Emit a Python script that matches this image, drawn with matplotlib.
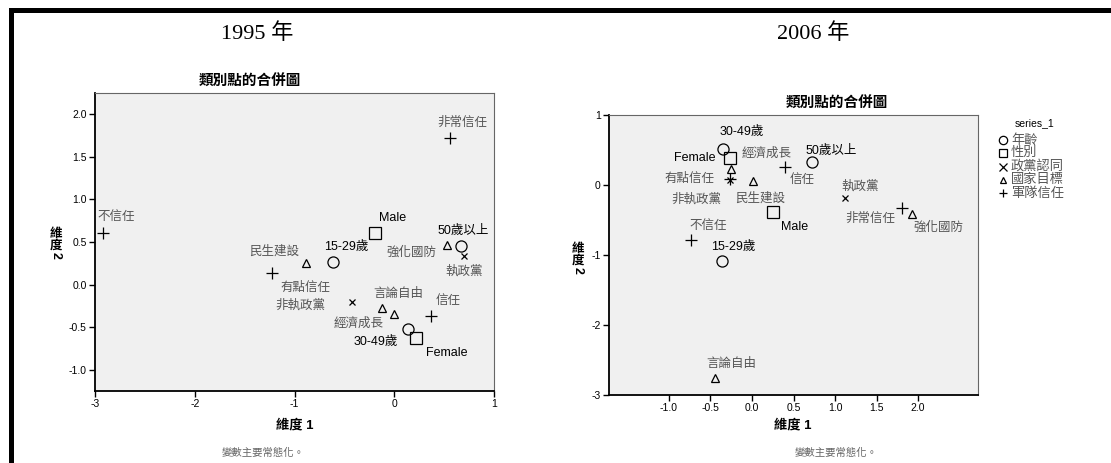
import matplotlib
matplotlib.use("Agg")
import matplotlib.pyplot as plt
from matplotlib.lines import Line2D
from matplotlib.patches import Rectangle

# Category groups and the marker used for each
groups = ['年齡', '性別', '政黨認同', '國家目標', '軍隊信任']
group_markers = ['o', 's', 'x', '^', '+']

# Category points, 1995
labels_95 = ['15-29歲', '30-49歲', '50歲以上', 'Male', 'Female', '執政黨', '非執政黨',
             '經濟成長', '民生建設', '言論自由', '強化國防', '不信任', '有點信任', '信任', '非常信任']
group_95 = [0, 0, 0, 1, 1, 2, 2, 3, 3, 3, 3, 4, 4, 4, 4]
dim1_95 = [-0.61, 0.14, 0.67, -0.19, 0.22, 0.70, -0.42, 0.00, -0.88, -0.12, 0.53, -2.92, -1.23, 0.37, 0.56]
dim2_95 = [0.27, -0.52, 0.45, 0.61, -0.63, 0.33, -0.20, -0.35, 0.25, -0.28, 0.46, 0.61, 0.14, -0.37, 1.72]

# Category points, 2006
labels_06 = labels_95
group_06 = group_95
dim1_06 = [-0.36, -0.35, 0.72, 0.25, -0.27, 1.12, -0.27, -0.25, 0.01, -0.45, 1.92, -0.73, -0.27, 0.40, 1.80]
dim2_06 = [-1.09, 0.51, 0.33, -0.39, 0.39, -0.19, 0.07, 0.23, 0.06, -2.76, -0.41, -0.79, 0.09, 0.26, -0.33]

# label placement (pixel offsets from the marker)
offs_95 = [(13, 15), (-32, -13), (2, 15), (17, 15), (31, -15), (0, -15), (-52, -4),
           (-36, -9), (-32, 12), (16, 15), (-36, -7), (13, 16), (34, -15), (17, 15), (12, 15)]
offs_06 = [(11, 14), (19, 17), (19, 11), (22, -15), (-35, 0), (15, 12), (-33, -19),
           (35, 15), (7, -18), (17, 14), (27, -14), (17, 14), (-40, 0), (17, -13), (-31, -11)]

FAM = ['Liberation Sans', 'Noto Sans CJK TC']
W, H = 1111, 463
MSIZE = {'o': 8, 's': 8, 'x': 5, '^': 5.5, '+': 8}


def rect(x0, y0, x1, y1):
	# pixel box (top-left origin) -> figure fraction
	return [x0 / W, 1 - y1 / H, (x1 - x0) / W, (y1 - y0) / H]


def draw_panel(ax, dim1, dim2, grp, labels, offs):
	ax.set_facecolor('#f0f0f0')
	for i in range(len(labels)):
		m = group_markers[grp[i]]
		ax.plot(dim1[i], dim2[i], linestyle='none', marker=m, markersize=MSIZE[m],
				markerfacecolor='none', markeredgecolor='black', markeredgewidth=0.9)
		col = 'black' if labels[i][0].isascii() else '#555555'
		t = ax.annotate(labels[i], (dim1[i], dim2[i]), xytext=offs[i], textcoords='offset pixels',
						ha='center', va='center', fontsize=9, color=col, family=FAM)
		t.set_clip_on(True)
	for s in ['left', 'bottom']:
		ax.spines[s].set_linewidth(1.3)
		ax.spines[s].set_color('black')
	for s in ['top', 'right']:
		ax.spines[s].set_linewidth(0.8)
		ax.spines[s].set_color('#666666')
	ax.tick_params(direction='out', length=4, width=1, labelsize=7.5, pad=2)


def main():
	plt.rcParams['font.family'] = FAM
	fig = plt.figure(figsize=(11.11, 4.63), dpi=100)

	# black frame lines on top and left
	fig.add_artist(Rectangle((9 / W, 1 - 13 / H), 1, 5 / H, transform=fig.transFigure,
							 color='black', lw=0))
	fig.add_artist(Rectangle((9 / W, 0), 5 / W, 1 - 8 / H, transform=fig.transFigure,
							 color='black', lw=0))

	fig.text(257 / W, 1 - 34 / H, '1995 年', ha='center', va='center', fontsize=16,
			 family=['Liberation Serif', 'Noto Sans CJK TC'])
	fig.text(813 / W, 1 - 34 / H, '2006 年', ha='center', va='center', fontsize=16,
			 family=['Liberation Serif', 'Noto Sans CJK TC'])

	# 1995 panel
	ax1 = fig.add_axes(rect(95, 93, 494, 391))
	draw_panel(ax1, dim1_95, dim2_95, group_95, labels_95, offs_95)
	ax1.set_xlim(-3, 1)
	ax1.set_ylim(-1.25, 2.25)
	ax1.set_xticks([-3, -2, -1, 0, 1])
	ax1.set_yticks([-1.0, -0.5, 0.0, 0.5, 1.0, 1.5, 2.0])
	ax1.set_yticklabels(['-1.0', '-0.5', '0.0', '0.5', '1.0', '1.5', '2.0'], family='Liberation Sans')
	ax1.set_xticklabels(['-3', '-2', '-1', '0', '1'], family='Liberation Sans')

	# 2006 panel
	ax2 = fig.add_axes(rect(609, 115, 978, 395))
	draw_panel(ax2, dim1_06, dim2_06, group_06, labels_06, offs_06)
	ax2.set_xlim(-1.72, 2.72)
	ax2.set_ylim(-3, 1)
	ax2.set_xticks([-1.0, -0.5, 0.0, 0.5, 1.0, 1.5, 2.0])
	ax2.set_xticklabels(['-1.0', '-0.5', '0.0', '0.5', '1.0', '1.5', '2.0'], family='Liberation Sans')
	ax2.set_yticks([-3, -2, -1, 0, 1])
	ax2.set_yticklabels(['-3', '-2', '-1', '0', '1'], family='Liberation Sans')

	# panel titles, axis labels and footnotes
	for cx, ty, xl_x, fx in [(250, 82, 295, 263), (837, 104, 793, 836)]:
		fig.text(cx / W, 1 - ty / H, '類別點的合併圖', ha='center', va='center',
				 fontsize=10.5, fontweight='bold')
		fig.text(xl_x / W, 1 - 425 / H, '維度 1', ha='center', va='center',
				 fontsize=9.5, fontweight='bold')
		fig.text(fx / W, 1 - 453 / H, '變數主要常態化。', ha='center', va='center',
				 fontsize=7.5, color='#666666')
	# vertical "維度2" labels: upright CJK characters, rotated digit
	for yl_x, yc in [(56, 240), (578, 255)]:
		fig.text(yl_x / W, 1 - yc / H, '維\n度', ha='center', va='center', fontsize=9,
				 fontweight='bold', linespacing=0.9)
		fig.text(yl_x / W, 1 - (yc + 15) / H, '2', ha='center', va='center', fontsize=9,
				 fontweight='bold', rotation=-90, family='Liberation Sans')

	# legend for the 2006 panel, drawn item by item
	fig.text(1035 / W, 1 - 123 / H, 'series_1', ha='center', va='center', fontsize=7.5,
			 family='Liberation Sans')
	for i in range(len(groups)):
		yy = 1 - (140 + 13.3 * i) / H
		m = group_markers[i]
		fig.add_artist(Line2D([1003 / W], [yy], transform=fig.transFigure, linestyle='none',
							  marker=m, markersize=6 if m != '^' else 4.5, markerfacecolor='none',
							  markeredgecolor='black', markeredgewidth=0.9))
		fig.text(1011 / W, yy, groups[i], ha='left', va='center', fontsize=9.5,
				 color='#555555')

	fig.savefig('out.png', dpi=100)


if __name__ == "__main__":
	main()
